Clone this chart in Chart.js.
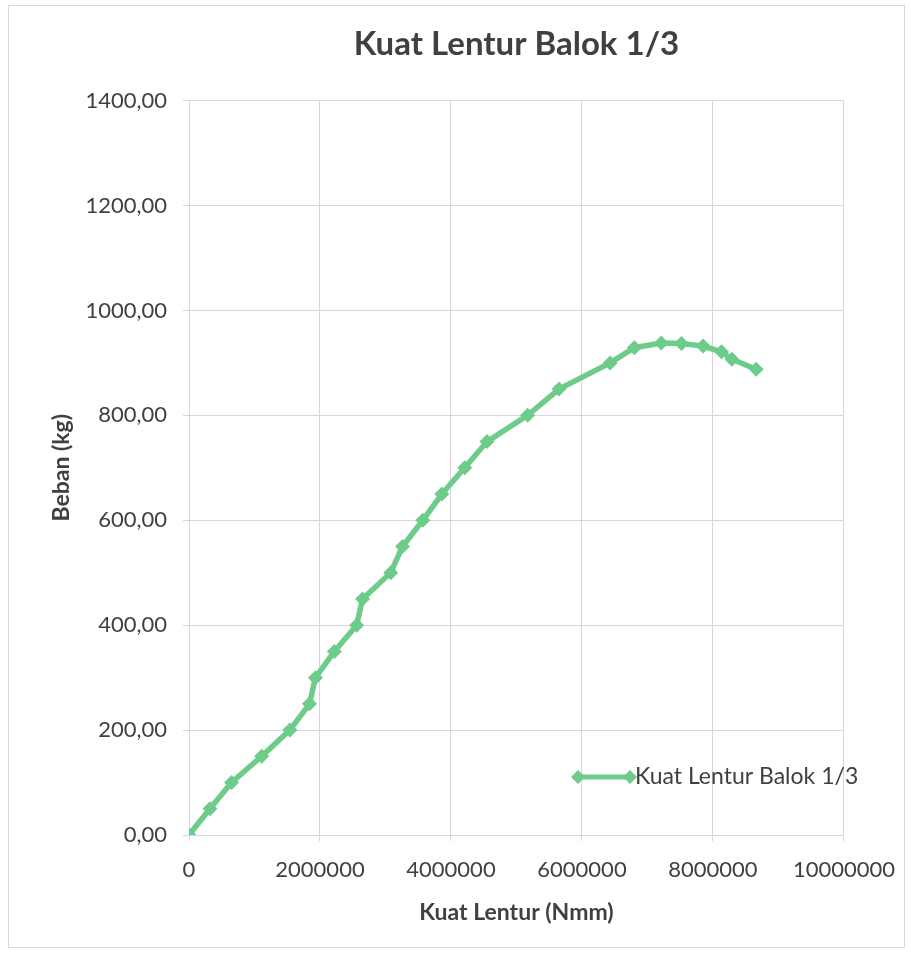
<!DOCTYPE html>
<html>
<head>
<meta charset="utf-8">
<title>Kuat Lentur Balok 1/3</title>
<script src="https://cdn.jsdelivr.net/npm/chart.js@4.4.1/dist/chart.umd.min.js"></script>
<style>
  html, body { margin: 0; padding: 0; background: #fff; }
  #wrap { width: 911px; height: 953px; }
</style>
</head>
<body>
<div id="wrap"><canvas id="chart" width="911" height="953"></canvas></div>
<script>
/* Kuat Lentur Balok 1/3 — grafik beban vs kuat lentur */

const SERIES_LABEL = "Kuat Lentur Balok 1/3";

// kuat lentur (Nmm)
const lentur = [
  0, 320000, 650000, 1110000, 1540000, 1840000, 1930000, 2220000, 2560000,
  2650000, 3080000, 3260000, 3570000, 3860000, 4210000, 4550000, 5170000,
  5650000, 6430000, 6800000, 7210000, 7520000, 7850000, 8130000, 8290000,
  8660000,
];

// beban (kg)
const beban = [
  0, 50, 100, 150, 200, 250, 300, 350, 400, 450, 500, 550, 600, 650, 700,
  750, 800, 850, 900, 929, 938, 937, 932, 921, 907, 888,
];

const X_MAX = 10000000;
const X_STEP = 2000000;
const Y_MAX = 1400;
const Y_STEP = 200;

const GREEN = "#6dcc8a";
const GRID = "#dcd3dc";
const TEXT = "#404040";
const FONT = "Lato, 'Open Sans', sans-serif";

// bingkai luar + latar putih
const frame = {
  id: "frame",
  beforeDraw(chart) {
    const { ctx, width, height } = chart;
    ctx.save();
    ctx.fillStyle = "#fff";
    ctx.fillRect(0, 0, width, height);
    ctx.strokeStyle = "#d9d9d9";
    ctx.lineWidth = 1;
    ctx.strokeRect(8.5, 5.5, width - 15, height - 11);
    ctx.restore();
  },
};

// legenda di dalam area plot (gaya Excel)
const innerLegend = {
  id: "innerLegend",
  afterDraw(chart) {
    const { ctx, chartArea } = chart;
    const ds = chart.data.datasets[0];
    const x0 = chartArea.left + 389;
    const x1 = x0 + 52;
    const y = chartArea.bottom - 58;
    ctx.save();
    ctx.strokeStyle = GREEN;
    ctx.lineWidth = 5;
    ctx.beginPath();
    ctx.moveTo(x0, y);
    ctx.lineTo(x1, y);
    ctx.stroke();
    ctx.fillStyle = GREEN;
    for (const x of [x0, x1]) {
      ctx.beginPath();
      ctx.moveTo(x, y - 7);
      ctx.lineTo(x + 7, y);
      ctx.lineTo(x, y + 7);
      ctx.lineTo(x - 7, y);
      ctx.closePath();
      ctx.fill();
    }
    ctx.font = "23px " + FONT;
    ctx.fillStyle = TEXT;
    ctx.textBaseline = "middle";
    ctx.fillText(ds.label, x1 + 5, y);
    ctx.restore();
  },
};

new Chart(document.getElementById("chart"), {
  type: "line",
  data: {
    datasets: [
      {
        label: SERIES_LABEL,
        data: lentur.map((x, i) => ({ x, y: beban[i] })),
        borderColor: GREEN,
        backgroundColor: GREEN,
        borderWidth: 5.5,
        pointStyle: "rectRot",
        pointRadius: 7.5,
        pointHoverRadius: 7.5,
        pointBorderWidth: 0,
        tension: 0,
      },
    ],
  },
  options: {
    responsive: false,
    animation: false,
    layout: { padding: { left: 9, right: 66, top: 10, bottom: 0 } },
    plugins: {
      legend: { display: false },
      tooltip: { enabled: false },
      title: {
        display: true,
        text: "Kuat Lentur Balok 1/3",
        fullSize: false,
        color: TEXT,
        font: { family: FONT, size: 33, weight: "bold" },
        padding: { top: 15, bottom: 36 },
      },
    },
    scales: {
      x: {
        type: "linear",
        min: 0,
        max: X_MAX,
        border: { color: GRID },
        grid: { color: GRID, tickLength: 6 },
        ticks: {
          stepSize: X_STEP,
          color: TEXT,
          font: { family: FONT, size: 22 },
          padding: 16,
          maxRotation: 0,
          callback: (v) => String(v),
        },
        title: {
          display: true,
          text: "Kuat Lentur (Nmm)",
          color: TEXT,
          font: { family: FONT, size: 23, weight: "bold" },
          padding: { top: 0, bottom: 27 },
        },
        afterFit(scale) {
          scale.height = 118;
        },
      },
      y: {
        min: 0,
        max: Y_MAX,
        border: { color: GRID },
        grid: { color: GRID, tickLength: 6 },
        ticks: {
          stepSize: Y_STEP,
          color: TEXT,
          font: { family: FONT, size: 22 },
          padding: 16,
          callback: (v) => v.toFixed(2).replace(".", ","),
        },
        title: {
          display: true,
          text: "Beban (kg)",
          color: TEXT,
          font: { family: FONT, size: 23, weight: "bold" },
          padding: { top: 39, bottom: 0 },
        },
        afterFit(scale) {
          scale.width = 180;
        },
      },
    },
  },
  plugins: [frame, innerLegend],
});
</script>
</body>
</html>
